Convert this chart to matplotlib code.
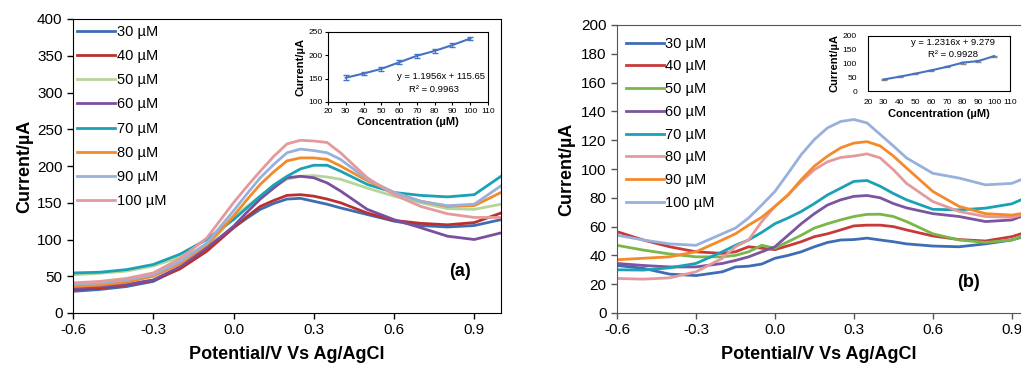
import matplotlib
matplotlib.use("Agg")
import matplotlib.pyplot as plt
import numpy as np

plt.rcParams['font.family'] = ['Liberation Sans', 'DejaVu Sans']

labels = ['30 µM', '40 µM', '50 µM', '60 µM', '70 µM', '80 µM', '90 µM', '100 µM']

# ---------------- Panel (a) data ----------------
xa = [-0.6, -0.5, -0.4, -0.3, -0.2, -0.1, -0.05, 0.0, 0.05, 0.1, 0.15, 0.2, 0.25, 0.3, 0.35, 0.4, 0.5, 0.6, 0.7, 0.8, 0.9, 1.0]
a30 = [29.5, 32, 36, 43, 61, 86, 101, 116, 129, 141, 149, 155, 156, 152, 148, 143, 134, 125, 119, 117, 119, 127]
a40 = [32, 34, 38, 44.5, 60, 84, 100, 116, 131, 145, 153, 160, 161, 159, 155, 150, 136, 126, 122, 120, 123, 136]
a50 = [52, 54, 57, 64, 76, 91, 110, 130, 145, 159, 172, 182, 186, 187, 185, 182, 170, 159, 150, 142, 141, 148]
a60 = [34, 36, 39, 45, 63, 89, 103, 118, 137, 155, 170, 184, 186, 184, 177, 166, 141, 127, 116, 104.5, 100, 109]
a70 = [54.5, 55.5, 59, 66, 80, 100, 114, 127, 143, 159, 174, 186, 196, 201, 201, 193, 175, 164, 160, 158, 161, 186]
a80 = [36, 38, 42, 50, 67, 93, 112, 132, 154, 175, 192, 207, 211, 211, 209, 200, 180, 164, 152, 145, 146, 164]
a90 = [39, 41, 45, 52, 70, 95, 117, 139, 162, 184, 202, 218, 223, 221, 218, 209, 182, 164, 152, 146, 148, 173]
a100 = [41, 43, 47, 54.5, 74, 102, 126, 150, 172, 193, 213, 230, 235, 234, 232, 218, 184, 161, 145, 135, 130, 130]
series_a = [a30, a40, a50, a60, a70, a80, a90, a100]
colors_a = ['#3E6DB5', '#B8312F', '#B5D69B', '#7B4FA0', '#1BA1B5', '#F58A2A', '#97B1DC', '#E49A9C']

# inset (a)
conc = [30, 40, 50, 60, 70, 80, 90, 100]
ia = [152, 161, 171, 185, 199, 209.5, 222, 236]
ia_err = [5, 3, 5, 4, 4, 4, 5, 3]

# ---------------- Panel (b) data ----------------
xb = [-0.6, -0.5, -0.4, -0.3, -0.2, -0.15, -0.1, -0.05, 0.0, 0.05, 0.1, 0.15, 0.2, 0.25, 0.3, 0.35, 0.4, 0.45, 0.5, 0.6, 0.7, 0.8, 0.9, 0.935]
b30 = [33, 31, 27, 26, 28.6, 32, 32.5, 34, 38, 40, 42.5, 46, 49, 50.7, 51, 52, 50.7, 49.5, 48, 46.5, 46, 48, 50.7, 52.5]
b40 = [56.5, 50.7, 46, 42.5, 41.4, 42.5, 46, 45, 44, 46.7, 49.5, 53, 55, 57.7, 60.5, 61, 61, 60, 57.7, 53.5, 51, 50, 53, 55]
b50 = [47, 43.7, 41, 39, 39, 40, 42.5, 47, 45, 49.5, 54, 59, 62, 64.7, 67, 68.5, 68.6, 67, 63.5, 55, 50.7, 49, 50.7, 53]
b60 = [34.4, 33, 32, 32, 34.4, 36.5, 39, 42.5, 46, 54, 62, 69, 75, 78.6, 81, 81.6, 80, 76, 73, 69, 67, 63.5, 64.6, 67]
b70 = [30, 29.8, 31.4, 34.4, 42.5, 47, 50.7, 56, 62, 66, 70.5, 76, 82, 86.7, 91.4, 92, 88, 83, 78.6, 72, 71.6, 72.8, 75.8, 78.6]
b80 = [24, 23.5, 24.4, 28.6, 38, 46, 50.7, 63.5, 74, 82, 91.4, 99.5, 105, 108, 109, 110.5, 107.7, 99.5, 90, 77.4, 70.5, 67, 66.5, 68]
b90 = [37, 38, 39, 42.5, 50.7, 55, 61, 66.5, 74, 82, 92.6, 102, 109, 114.7, 118, 119, 116, 109, 100.7, 84.4, 74, 69, 68, 69]
b100 = [54, 50.7, 48, 47, 55, 59, 66, 75, 84.4, 97, 110, 120.5, 128.6, 133, 134.4, 132, 124, 116, 107.7, 97, 93.7, 89, 90, 92.6]
series_b = [b30, b40, b50, b60, b70, b80, b90, b100]
colors_b = ['#3E6DB5', '#C83A3A', '#7AB648', '#7B559F', '#1BA1B5', '#E49A9C', '#F58A2A', '#97B1DC']

# inset (b)
ib = [42, 52, 63, 75, 88, 103, 109, 127]
ib_err = [2, 2, 2, 2, 2, 4, 4, 2]

W, H = 1021, 371
fig = plt.figure(figsize=(W / 100, H / 100), dpi=100)

def fx(px):
    return px / W

def fy(py):
    return 1 - py / H

# main axes (a)
axa = fig.add_axes([fx(73), fy(313), fx(501) - fx(73), fy(19) - fy(313)])
for s, c, l in zip(series_a, colors_a, labels):
    axa.plot(xa, s, color=c, lw=2.0, label=l)
axa.set_xlim(-0.6, 1.0)
axa.set_ylim(0, 400)
axa.set_xticks([-0.6, -0.3, 0.0, 0.3, 0.6, 0.9])
axa.set_xticklabels(['-0.6', '-0.3', '0.0', '0.3', '0.6', '0.9'])
axa.set_yticks(range(0, 401, 50))
axa.tick_params(labelsize=11, length=4, width=1, direction='out')
axa.set_xlabel('Potential/V Vs Ag/AgCl', fontsize=13, fontweight='bold', labelpad=6)
axa.set_ylabel('Current/µA', fontsize=13, fontweight='bold', labelpad=3)
axa.legend(loc='upper left', bbox_to_anchor=(-0.01, 1.01), frameon=False, fontsize=10.5,
           handlelength=2.6, handletextpad=0.1, labelspacing=0.7, borderaxespad=0.2)
axa.text(0.905, 0.14, '(a)', transform=axa.transAxes, fontsize=13, fontweight='bold',
         ha='center', va='center')

# inset (a)
ina = fig.add_axes([fx(328), fy(102), fx(488) - fx(328), fy(32) - fy(102)])
ina.errorbar(conc, ia, yerr=ia_err, color='#4472C4', lw=1.5, capsize=2, elinewidth=0.8, ecolor='#4472C4')
ina.set_xlim(20, 110)
ina.set_ylim(100, 250)
ina.set_xticks(range(20, 111, 10))
ina.set_yticks([100, 150, 200, 250])
ina.tick_params(labelsize=6, length=2, pad=2)
ina.set_xlabel('Concentration (µM)', fontsize=8, fontweight='bold', labelpad=2)
ina.set_ylabel('Current/µA', fontsize=8, fontweight='bold', labelpad=2)
ina.text(0.98, 0.37, 'y = 1.1956x + 115.65', transform=ina.transAxes, fontsize=6.8, ha='right', va='center')
ina.text(0.82, 0.18, 'R² = 0.9963', transform=ina.transAxes, fontsize=6.8, ha='right', va='center')

# main axes (b)
axb = fig.add_axes([fx(617), fy(313), 1 - fx(617), fy(25) - fy(313)])
for s, c, l in zip(series_b, colors_b, labels):
    axb.plot(xb, s, color=c, lw=2.0, label=l)
axb.set_xlim(-0.6, 0.935)
axb.set_ylim(0, 200)
axb.set_xticks([-0.6, -0.3, 0.0, 0.3, 0.6, 0.9])
axb.set_xticklabels(['-0.6', '-0.3', '0.0', '0.3', '0.6', '0.9'])
axb.set_yticks(range(0, 201, 20))
axb.spines['right'].set_visible(False)
for sp in ['left', 'bottom', 'top']:
    axb.spines[sp].set_color('#555555')
axb.tick_params(labelsize=11, length=4, width=1, direction='out', color='#555555')
axb.set_xlabel('Potential/V Vs Ag/AgCl', fontsize=13, fontweight='bold', labelpad=6)
axb.set_ylabel('Current/µA', fontsize=13, fontweight='bold', labelpad=4)
axb.legend(loc='upper left', bbox_to_anchor=(0.0, 0.99), frameon=False, fontsize=10.5,
           handlelength=2.6, handletextpad=0.1, labelspacing=0.6, borderaxespad=0.2)
axb.text(0.87, 0.105, '(b)', transform=axb.transAxes, fontsize=13, fontweight='bold',
         ha='center', va='center')

# inset (b)
inb = fig.add_axes([fx(868), fy(91), fx(1010) - fx(868), fy(36) - fy(91)])
inb.errorbar(conc, ib, yerr=ib_err, color='#4472C4', lw=1.5, capsize=2, elinewidth=0.8, ecolor='#888888')
inb.set_xlim(20, 110)
inb.set_ylim(0, 200)
inb.set_xticks(range(20, 111, 10))
inb.set_xticklabels(['20', '30', '40', '50', '60', '70', '80', '90', '100', '110'])
inb.set_yticks([0, 50, 100, 150, 200])
inb.tick_params(labelsize=6, length=0, pad=6)
inb.tick_params(axis='y', pad=8)
inb.set_xlabel('Concentration (µM)', fontsize=8, fontweight='bold', labelpad=2)
inb.set_ylabel('Current/µA', fontsize=8, fontweight='bold', labelpad=2)
inb.text(0.3, 0.88, 'y = 1.2316x + 9.279', transform=inb.transAxes, fontsize=6.8, ha='left', va='center')
inb.text(0.42, 0.66, 'R² = 0.9928', transform=inb.transAxes, fontsize=6.8, ha='left', va='center')

fig.savefig('out.png', dpi=100)
